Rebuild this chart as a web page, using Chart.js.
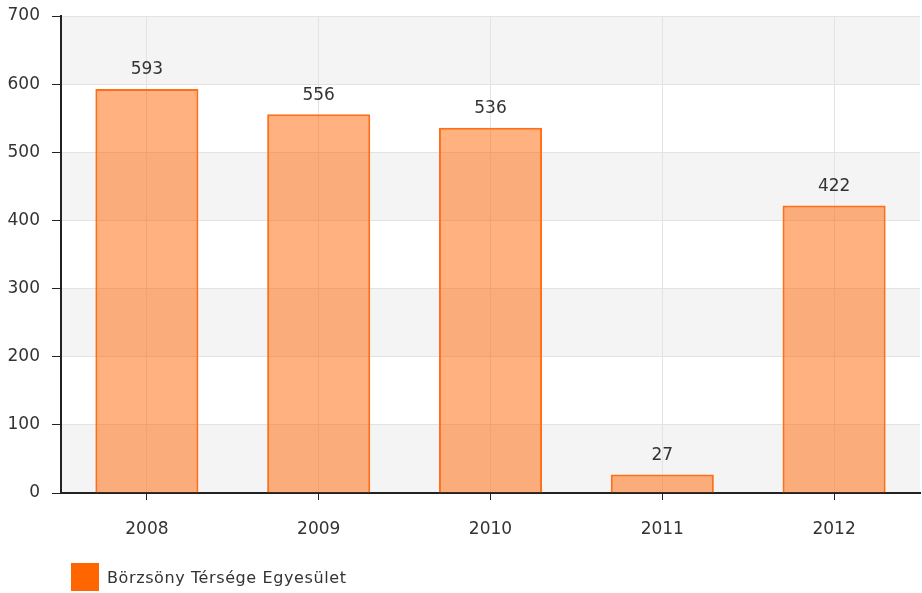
<!DOCTYPE html>
<html>
<head>
<meta charset="utf-8">
<script src="https://cdn.jsdelivr.net/npm/chart.js@4/dist/chart.umd.min.js"></script>
<style>
  body { margin: 0; background: #fff; }
  #wrap { position: relative; width: 922px; height: 593px; }
  #legend { position: absolute; left: 71px; top: 563px; display: flex; align-items: center;
            font-family: "DejaVu Sans", Verdana, sans-serif; font-size: 16px; letter-spacing: 0.6px; color: #333; }
  #legend span.box { width: 28px; height: 28px; background: #ff6600; margin-right: 8px; display: inline-block; }
</style>
</head>
<body>
<div id="wrap">
  <canvas id="chart" width="922" height="593"></canvas>
  <div id="legend"><span class="box"></span><span>Börzsöny Térsége Egyesület</span></div>
</div>
<script>
const years = ['2008', '2009', '2010', '2011', '2012'];
const values = [593, 556, 536, 27, 422];
const seriesName = 'Börzsöny Térsége Egyesület';

// grey bands behind every other 100-step
const bands = {
    id: 'bands',
    beforeDraw(chart) {
        const { ctx, chartArea, scales } = chart;
        ctx.save();
        ctx.fillStyle = '#f4f4f4';
        for (let v = 0; v < 700; v += 200) {
            const top = scales.y.getPixelForValue(v + 100);
            const bottom = scales.y.getPixelForValue(v);
            ctx.fillRect(chartArea.left, top, chartArea.right - chartArea.left, bottom - top);
        }
        ctx.restore();
    }
};

// value labels above bars
const valueLabels = {
    id: 'valueLabels',
    afterDatasetsDraw(chart) {
        const { ctx } = chart;
        const meta = chart.getDatasetMeta(0);
        ctx.save();
        ctx.font = '17px "DejaVu Sans", Verdana, sans-serif';
        ctx.fillStyle = '#333';
        ctx.textAlign = 'center';
        ctx.textBaseline = 'middle';
        meta.data.forEach((bar, i) => {
            ctx.fillText(String(values[i]), bar.x, bar.y - 19);
        });
        ctx.restore();
    }
};

new Chart(document.getElementById('chart'), {
    type: 'bar',
    data: {
        labels: years,
        datasets: [{
            label: seriesName,
            data: values,
            backgroundColor: 'rgba(255,102,0,0.5)',
            borderColor: '#ff6f1a',
            borderWidth: 2,
            categoryPercentage: 1,
            barPercentage: 0.6
        }]
    },
    options: {
        responsive: false,
        animation: false,
        layout: { padding: { top: 16, right: 2, left: 0, bottom: 0 } },
        plugins: {
            legend: { display: false },
            tooltip: { enabled: false }
        },
        scales: {
            x: {
                grid: { offset: false, color: '#e3e3e3', tickColor: '#222', tickLength: 7 },
                border: { color: '#222', width: 2 },
                ticks: { color: '#333', padding: 19, font: { family: '"DejaVu Sans", Verdana, sans-serif', size: 17 } },
                afterFit(scale) { scale.height = 100; }
            },
            y: {
                min: 0,
                max: 700,
                ticks: { stepSize: 100, color: '#333', padding: 12, font: { family: '"DejaVu Sans", Verdana, sans-serif', size: 17 } },
                grid: { color: '#e3e3e3', tickColor: '#222', tickLength: 9 },
                border: { color: '#222', width: 2 },
                afterFit(scale) { scale.width = 61; scale.paddingTop = 0; scale.paddingBottom = 0; }
            }
        }
    },
    plugins: [bands, valueLabels]
});
</script>
</body>
</html>
